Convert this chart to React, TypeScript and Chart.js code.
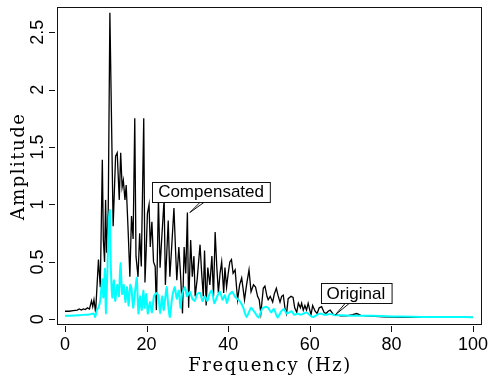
import React, { useEffect, useRef } from "react";
import { Chart, registerables } from "chart.js";

Chart.register(...registerables);

// Compensated spectrum (black): frequency (Hz) and amplitude at each vertex
const compFreq = [
  0, 1, 2, 3, 3.5, 4, 4.5, 5, 5.5, 6,
  6.5, 6.8, 7.1, 7.5, 8.2, 8.65, 9.15, 9.4, 9.7, 9.95,
  10.2, 10.6, 11, 11.8, 12.4, 12.8, 13.3, 13.65, 14, 14.3,
  14.7, 15, 15.3, 15.5, 15.9, 16.3, 16.7, 17.1, 17.4, 17.9,
  18.3, 18.7, 19.3, 19.6, 19.9, 20.2, 20.6, 20.9, 21.3, 21.7,
  22.1, 22.4, 22.9, 23.3, 23.7, 24.3, 24.6, 25.3, 25.7, 26.1,
  26.7, 27.1, 27.4, 27.9, 28.3, 28.8, 29.2, 29.6, 30, 30.3,
  30.8, 31.2, 31.6, 31.9, 32.4, 33.1, 33.5, 33.9, 34.2, 34.6,
  35, 35.5, 36, 36.4, 36.8, 37.2, 37.6, 38, 38.4, 38.9,
  39.2, 39.6, 40, 40.4, 40.8, 41.2, 41.7, 42.3, 42.8, 43.3,
  43.6, 44, 44.5, 45.1, 45.6, 46.2, 46.7, 47.2, 47.6, 48,
  48.6, 49, 49.5, 49.8, 50.3, 50.9, 51.3, 51.8, 52.2, 52.7,
  53.1, 53.5, 53.9, 54.3, 54.7, 55.4, 55.9, 56.3, 56.8, 57.2,
  57.7, 58, 58.4, 58.8, 59.2, 59.6, 60, 60.3, 60.7, 61.3,
  61.8, 62.3, 62.9, 63.5, 64, 64.5, 65, 65.8, 66.5, 67.5,
  69, 70.5, 71.5, 72.5, 74, 76, 78, 80, 85, 90,
  95, 100,
];
const compAmp = [
  0.07, 0.07, 0.075, 0.08, 0.09, 0.08, 0.09, 0.085, 0.1, 0.09,
  0.16, 0.11, 0.17, 0.06, 0.52, 0.28, 1.39, 0.69, 0.5, 1.04,
  0.58, 0.95, 2.67, 0.81, 1.42, 1.45, 1.04, 1.45, 1.15, 1.21,
  1.04, 1.17, 0.92, 0.75, 0.37, 0.9, 0.7, 1.75, 0.55, 0.37,
  0.75, 0.46, 1.75, 0.32, 0.6, 0.92, 1.0, 0.63, 0.85, 0.5,
  0.46, 0.08, 1.05, 0.45, 0.7, 1.05, 0.3, 0.86, 0.37, 0.6,
  0.97, 0.6, 0.34, 0.63, 0.4, 0.05, 0.63, 0.4, 0.93, 0.1,
  0.69, 0.37, 0.55, 0.2, 0.35, 0.65, 0.4, 0.2, 0.6, 0.12,
  0.45, 0.3, 0.55, 0.2, 0.76, 0.46, 0.23, 0.4, 0.5, 0.23,
  0.45, 0.28, 0.4, 0.5, 0.52, 0.4, 0.43, 0.17, 0.3, 0.36,
  0.28, 0.17, 0.3, 0.43, 0.24, 0.3, 0.28, 0.2, 0.17, 0.05,
  0.27, 0.29, 0.2, 0.17, 0.2, 0.15, 0.22, 0.27, 0.21, 0.15,
  0.2, 0.21, 0.1, 0.05, 0.18, 0.2, 0.19, 0.1, 0.06, 0.14,
  0.1, 0.14, 0.08, 0.12, 0.08, 0.14, 0.08, 0.04, 0.12, 0.07,
  0.05, 0.1, 0.11, 0.06, 0.05, 0.07, 0.08, 0.04, 0.04, 0.03,
  0.03, 0.04, 0.05, 0.035, 0.03, 0.025, 0.022, 0.02, 0.018, 0.017,
  0.017, 0.016,
];

// Original spectrum (cyan)
const origFreq = [
  0, 1, 2, 3, 4, 5, 6, 7, 7.4, 7.8,
  8.2, 8.65, 9.15, 9.4, 9.8, 10, 10.4, 10.7, 11, 11.2,
  11.6, 12, 12.3, 12.8, 13.2, 13.6, 14, 14.4, 14.8, 15.2,
  15.6, 16, 16.3, 16.7, 17.2, 17.6, 18, 18.4, 18.8, 19.2,
  19.5, 19.9, 20.3, 20.8, 21.3, 21.8, 22.4, 22.9, 23.3, 23.8,
  24.2, 24.9, 25.3, 25.7, 26.3, 26.9, 27.4, 27.9, 28.3, 28.7,
  29.4, 29.9, 30.6, 31.2, 31.8, 32.4, 33.1, 33.7, 34.3, 34.9,
  35.5, 36, 36.6, 37.3, 38, 38.6, 39.2, 39.7, 40.2, 41,
  41.6, 42.2, 43, 43.7, 44.5, 45.6, 46.5, 47.4, 48.3, 49.2,
  49.8, 50.5, 51.2, 52.1, 53, 53.7, 54.3, 55, 55.5, 56.2,
  57, 57.8, 58.5, 59.2, 60, 60.8, 61.6, 62.5, 63.5, 65,
  66.5, 68, 70, 75, 80, 85, 90, 95, 100,
];
const origAmp = [
  0.03, 0.03, 0.032, 0.035, 0.037, 0.04, 0.042, 0.05, 0.02, 0.08,
  0.1, 0.17, 0.35, 0.19, 0.44, 0.05, 0.43, 0.84, 0.95, 0.5,
  0.19, 0.34, 0.16, 0.3, 0.2, 0.49, 0.22, 0.3, 0.15, 0.28,
  0.12, 0.3, 0.27, 0.1, 0.25, 0.36, 0.05, 0.2, 0.08, 0.25,
  0.1, 0.22, 0.05, 0.15, 0.06, 0.2, 0.23, 0.2, 0.05, 0.2,
  0.08, 0.28, 0.12, 0.02, 0.2, 0.28, 0.18, 0.25, 0.1, 0.22,
  0.28, 0.2, 0.24, 0.18, 0.16, 0.22, 0.23, 0.16, 0.2, 0.16,
  0.23, 0.25, 0.14, 0.2, 0.24, 0.17, 0.21, 0.14, 0.21, 0.24,
  0.2, 0.18, 0.15, 0.1, 0.02, 0.1, 0.06, 0.015, 0.09, 0.11,
  0.1, 0.06, 0.09, 0.015, 0.07, 0.09, 0.05, 0.06, 0.07, 0.04,
  0.05, 0.04, 0.05, 0.06, 0.035, 0.02, 0.035, 0.05, 0.04, 0.045,
  0.035, 0.035, 0.03, 0.03, 0.025, 0.022, 0.02, 0.02, 0.018,
];

const xTicks = [0, 20, 40, 60, 80, 100];
const xTickLabels = ["0", "20", "40", "60", "80", "100"];
const yTicks = [0, 0.5, 1, 1.5, 2, 2.5];
const yTickLabels = ["0", "0.5", "1", "1.5", "2", "2.5"];
const xTitle = "Frequency (Hz)";
const yTitle = "Amplitude";

// Callout labels: text centre and arrow tip, in data units
const callouts = [
  { text: "Compensated", cx: 35.8, cy: 1.113, tipX: 30.6, tipY: 0.93 },
  { text: "Original", cx: 71.3, cy: 0.229, tipX: 66.2, tipY: 0.037 },
];

const X_MIN = -1.96;
const X_MAX = 101.96;
const Y_MIN = -0.041;
const Y_MAX = 2.72;

const decorPlugin = {
  id: "decor",
  afterDatasetsDraw(chart: any) {
    const { ctx, chartArea: a, scales } = chart;
    const xs = scales.x;
    const ys = scales.y;
    ctx.save();
    // frame
    ctx.strokeStyle = "#111";
    ctx.lineWidth = 1;
    ctx.strokeRect(a.left + 0.5, a.top + 0.5, a.right - a.left, a.bottom - a.top);

    // callouts
    ctx.font = '17px "Liberation Sans", Arial, sans-serif';
    ctx.textAlign = "center";
    ctx.textBaseline = "middle";
    for (const c of callouts) {
      const px = xs.getPixelForValue(c.cx);
      const py = ys.getPixelForValue(c.cy);
      const w = ctx.measureText(c.text).width + 12;
      const h = 20;
      const bx = Math.round(px - w / 2) + 0.5;
      const by = Math.round(py - h / 2) + 0.5;
      const tx = xs.getPixelForValue(c.tipX);
      const ty = ys.getPixelForValue(c.tipY);
      ctx.fillStyle = "#fff";
      ctx.fillRect(bx, by, w, h);
      ctx.strokeStyle = "#111";
      ctx.lineWidth = 1;
      ctx.strokeRect(bx, by, w, h);
      ctx.beginPath();
      ctx.moveTo(tx + 10, by + h);
      ctx.lineTo(tx, ty);
      ctx.lineTo(tx + 14, by + h);
      ctx.stroke();
      ctx.fillStyle = "#000";
      ctx.fillText(c.text, px, py + 1);
    }

    // ticks
    ctx.strokeStyle = "#111";
    ctx.lineWidth = 1;
    ctx.beginPath();
    for (const v of xTicks) {
      const p = Math.round(xs.getPixelForValue(v)) + 0.5;
      ctx.moveTo(p, a.bottom + 2);
      ctx.lineTo(p, a.bottom + 8);
    }
    for (const v of yTicks) {
      const p = Math.round(ys.getPixelForValue(v)) + 0.5;
      ctx.moveTo(a.left - 8, p);
      ctx.lineTo(a.left - 2, p);
    }
    ctx.stroke();

    // tick labels
    ctx.fillStyle = "#000";
    ctx.font = '18px "Liberation Sans", Arial, sans-serif';
    ctx.textAlign = "center";
    ctx.textBaseline = "alphabetic";
    xTicks.forEach((v, i) => {
      ctx.fillText(xTickLabels[i], xs.getPixelForValue(v), a.bottom + 26);
    });
    yTicks.forEach((v, i) => {
      ctx.save();
      ctx.translate(a.left - 14, ys.getPixelForValue(v));
      ctx.rotate(-Math.PI / 2);
      ctx.fillText(yTickLabels[i], 0, 0);
      ctx.restore();
    });

    // axis titles
    ctx.font = '18px "DejaVu Serif", serif';
    (ctx as any).letterSpacing = "1.5px";
    ctx.fillText(xTitle, (a.left + a.right) / 2 + 1, a.bottom + 47);
    ctx.save();
    ctx.translate(a.left - 33, (a.top + a.bottom) / 2 + 1);
    ctx.rotate(-Math.PI / 2);
    ctx.fillText(yTitle, 0, 0);
    ctx.restore();

    ctx.restore();
  },
};

export default function App() {
  const ref = useRef<HTMLCanvasElement | null>(null);
  useEffect(() => {
    if (!ref.current) return;
    const chart = new Chart(ref.current, {
      type: "line",
      data: {
        datasets: [
          {
            label: "Original",
            data: origFreq.map((f, i) => ({ x: f, y: origAmp[i] })),
            borderColor: "#00ffff",
            borderWidth: 2,
            pointRadius: 0,
            tension: 0.2,
            fill: false,
            order: 0,
          },
          {
            label: "Compensated",
            data: compFreq.map((f, i) => ({ x: f, y: compAmp[i] })),
            borderColor: "#000",
            borderWidth: 1.3,
            pointRadius: 0,
            tension: 0,
            fill: false,
            order: 1,
          },
        ],
      },
      options: {
        responsive: false,
        animation: false,
        events: [],
        layout: { padding: { left: 57, top: 7, right: 12, bottom: 51 } },
        plugins: { legend: { display: false }, tooltip: { enabled: false } },
        scales: {
          x: { type: "linear", min: X_MIN, max: X_MAX, display: false },
          y: { type: "linear", min: Y_MIN, max: Y_MAX, display: false },
        },
      },
      plugins: [decorPlugin],
    });
    return () => chart.destroy();
  }, []);
  return (
    <div style={{ position: "fixed", left: 0, top: 0, width: 493, height: 375, background: "#fff" }}>
      <canvas ref={ref} width={493} height={375} style={{ display: "block" }} />
    </div>
  );
}
